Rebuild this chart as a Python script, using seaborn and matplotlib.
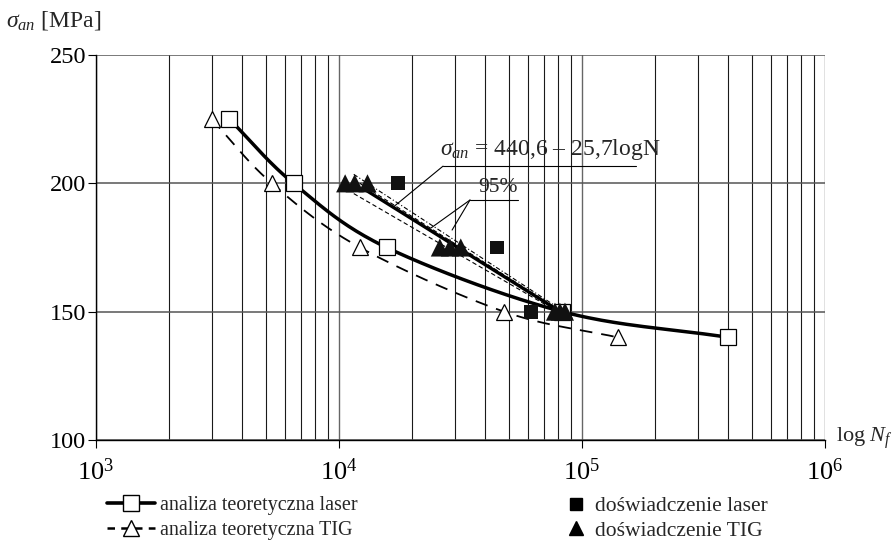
import numpy as np
import pandas as pd
import matplotlib
matplotlib.use("Agg")
import matplotlib.pyplot as plt
from matplotlib.lines import Line2D
import seaborn as sns

# ---- data ----
laser_N = [3540, 6500, 15700, 83000, 400000]
laser_S = [225, 200, 175, 150, 140]
tig_N = [2990, 5290, 12200, 47800, 140000]
tig_S = [225, 200, 175, 150, 140]
exp_laser_N = [17500, 44600, 61700]
exp_laser_S = [200, 175, 150]
exp_tig_N = [10600, 11600, 13100, 26000, 28600, 31700, 77400, 81100, 85100]
exp_tig_S = [200, 200, 200, 175, 175, 175, 150, 150, 150]
# regression sigma = 440.6 - 25.7 ln N, drawn over this range
reg_a, reg_b = 440.6, 25.7
reg_N = [13000, 90000]
# 95% bands (end values)
band_N = [11500, 90000]
band_up_outer = [203.5, 148.3]
band_up_inner = [201.5, 147.8]
band_low = [196.0, 147.0]


def smooth(xs, ys, n=40):
    """Catmull-Rom curve through the points, in (log10 x, y) space."""
    lx = np.log10(np.asarray(xs, float))
    y = np.asarray(ys, float)
    P = np.column_stack([lx, y])
    P = np.vstack([2*P[0]-P[1], P, 2*P[-1]-P[-2]])
    out = []
    t = np.linspace(0, 1, n)[:, None]
    for i in range(1, len(P)-2):
        p0, p1, p2, p3 = P[i-1], P[i], P[i+1], P[i+2]
        seg = 0.5*((2*p1) + (-p0+p2)*t + (2*p0-5*p1+4*p2-p3)*t**2 + (-p0+3*p1-3*p2+p3)*t**3)
        out.append(seg if i == 1 else seg[1:])
    out = np.vstack(out)
    return pd.DataFrame({"N": 10**out[:, 0], "S": out[:, 1]})


sns.set_style("white")
plt.rcParams["font.family"] = ["Liberation Serif", "DejaVu Serif"]
plt.rcParams["mathtext.fontset"] = "custom"
plt.rcParams["mathtext.rm"] = "Liberation Serif"
plt.rcParams["mathtext.it"] = "Liberation Serif:italic"

fig = plt.figure(figsize=(8.93, 5.40), dpi=100)
ax = fig.add_axes([96/893, 1-440/540, (825-96)/893, (440-55)/540])

df_el = pd.DataFrame({"N": exp_laser_N, "S": exp_laser_S})
df_et = pd.DataFrame({"N": exp_tig_N, "S": exp_tig_S})

ax.set_xscale("log")
ax.set_xlim(1e3, 1e6)
ax.set_ylim(100, 250)

# grid
ax.set_xticks([1e3, 1e4, 1e5, 1e6])
ax.set_xticks([m * 10**e for e in (3, 4, 5) for m in range(2, 10)], minor=True)
ax.xaxis.grid(True, which="minor", color="#1a1a1a", lw=0.8)
ax.xaxis.grid(True, which="major", color="#666666", lw=1.0)
ax.set_yticks([100, 150, 200, 250])
ax.yaxis.grid(True, which="major", color="#555555", lw=1.1)
ax.set_axisbelow(True)

# regression and bands
rN = np.array(reg_N, dtype=float)
ax.plot(rN, reg_a - reg_b*np.log(rN), color="black", lw=2.4, zorder=3)
ax.plot(band_N, band_up_outer, color="black", lw=0.8, ls=(0, (4, 2, 1, 2)), zorder=3)
ax.plot(band_N, band_up_inner, color="black", lw=0.8, ls=(0, (4, 2.5)), zorder=3)
ax.plot(band_N, band_low, color="black", lw=0.8, ls=(0, (4, 2.5)), zorder=3)

# analysis curves
sns.lineplot(data=smooth(tig_N, tig_S), x="N", y="S", ax=ax, color="black", lw=1.3,
             linestyle=(0, (7, 5)), sort=False, zorder=4)
sns.lineplot(data=smooth(laser_N, laser_S), x="N", y="S", ax=ax, color="black", lw=2.5,
             sort=False, zorder=4)
ax.plot(tig_N, tig_S, ls="none", marker="^", ms=12, mfc="white", mec="black",
        mew=0.9, zorder=5)
ax.plot(laser_N, laser_S, ls="none", marker="s", ms=11, mfc="white", mec="black",
        mew=0.9, zorder=5)

# experiments
sns.scatterplot(data=df_el, x="N", y="S", ax=ax, marker="s", s=100, color="#111111",
                edgecolor="none", zorder=6)
sns.scatterplot(data=df_et, x="N", y="S", ax=ax, marker="^", s=170, color="#111111",
                edgecolor="none", zorder=7)

ax.set_xlabel("")
ax.set_ylabel("")

# spines and ticks
for s in ("top", "right"):
    ax.spines[s].set_visible(False)
for s in ("left", "bottom"):
    ax.spines[s].set_color("black")
    ax.spines[s].set_linewidth(1.0)
ax.tick_params(axis="both", which="major", direction="out", length=6, width=0.8,
               colors="black", labelsize=17.5, left=True, bottom=True)
ax.tick_params(axis="y", pad=1)
ax.tick_params(axis="x", which="minor", length=0)
ax.set_xticklabels([r"$\mathregular{10^{3}}$", r"$\mathregular{10^{4}}$",
                    r"$\mathregular{10^{5}}$", r"$\mathregular{10^{6}}$"])
ax.tick_params(axis="x", pad=7, labelsize=19)

# axis labels
fig.text(6/893, 1-20/540, r"$\sigma_{an}$ [MPa]", fontsize=17, va="center", ha="left")
fig.text(836/893, 1-438/540, r"log $N_f$", fontsize=16, va="center", ha="left")

# regression annotation
ax.plot([26800, 166700], [206.7, 206.7], color="black", lw=0.8, zorder=8)
ax.plot([26800, 16700], [206.7, reg_a - reg_b*np.log(16700)], color="black", lw=0.8, zorder=8)
ax.text(74000, 208.5, r"$\sigma_{an}$ = 440,6 – 25,7logN", fontsize=17,
        ha="center", va="bottom", zorder=8)
# 95% annotation
ax.plot([34600, 54600], [193.5, 193.5], color="black", lw=0.8, zorder=8)
ax.plot([34600, 23900], [193.5, 182.6], color="black", lw=0.8, zorder=8)
ax.plot([34600, 29200], [193.5, 181.8], color="black", lw=0.8, zorder=8)
ax.text(45000, 194.5, "95%", fontsize=15.5, ha="center", va="bottom", zorder=8)

# legends
h1 = [Line2D([], [], color="black", lw=2.6, marker="s", ms=11, mfc="white", mec="black"),
      Line2D([], [], color="black", lw=1.8, ls=(0, (3, 2.5)), marker="^", ms=11,
             mfc="white", mec="black")]
fig.legend(h1, ["analiza teoretyczna laser", "analiza teoretyczna TIG"],
           loc="upper left", bbox_to_anchor=(107/893, 1-496/540), frameon=False,
           fontsize=14.5, handlelength=2.4, handletextpad=0.25, labelspacing=0.3,
           borderaxespad=0, borderpad=0)
h2 = [Line2D([], [], ls="none", color="black", marker="s", ms=9),
      Line2D([], [], ls="none", color="black", marker="^", ms=10)]
fig.legend(h2, ["doświadczenie laser", "doświadczenie TIG"],
           loc="upper left", bbox_to_anchor=(565/893, 1-496/540), frameon=False,
           fontsize=15.5, handlelength=1.0, handletextpad=0.4, labelspacing=0.22,
           borderaxespad=0, borderpad=0)

fig.savefig("out.png", dpi=100)
